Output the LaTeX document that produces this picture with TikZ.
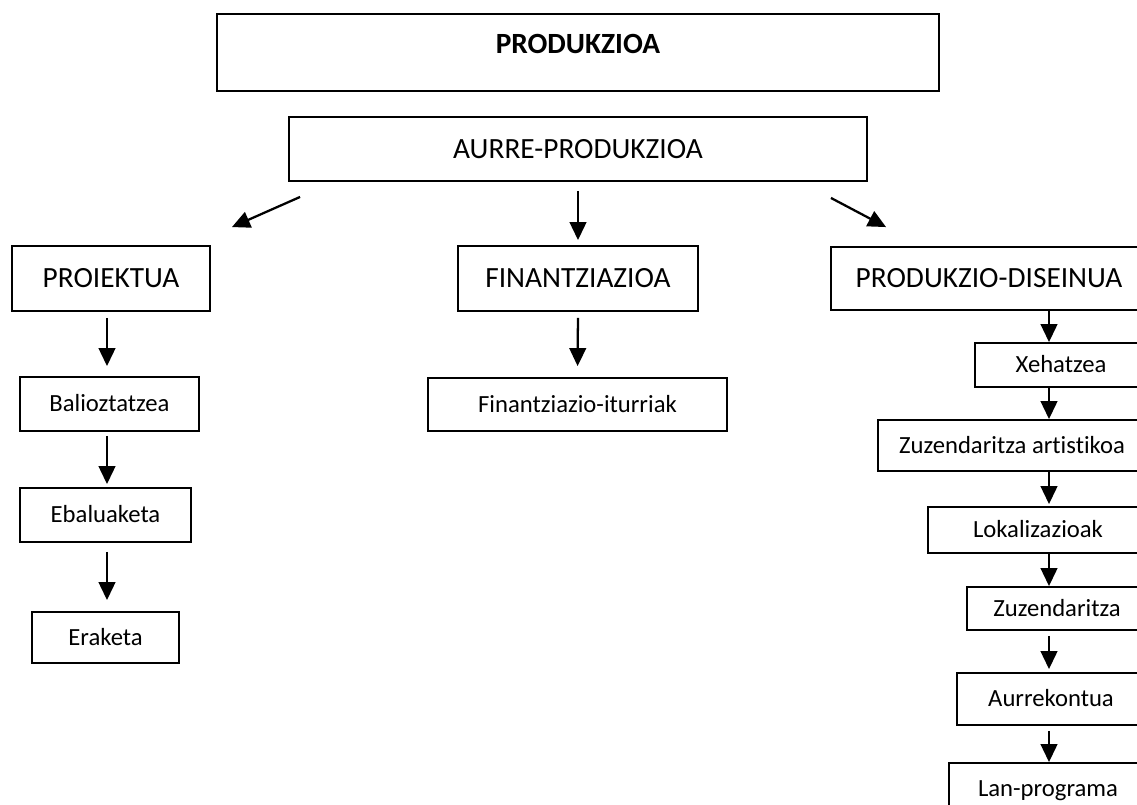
\documentclass[tikz,border=0pt]{standalone}
\usepackage{fontspec}
\setmainfont{Carlito}[Ligatures=NoCommon]
\usetikzlibrary{arrows.meta,calc}

\begin{document}
\begin{tikzpicture}[
x=0.75pt, y=-0.75pt,
box/.style={
  draw,
  line width=1.4pt,
  inner sep=0pt,
  text depth=0pt
  },
big/.style={
  box,
  font=\fontsize{22}{26}\selectfont,
  text height=13.9pt
  },
small/.style={
  box,
  font=\fontsize{18.5}{22}\selectfont,
  text height=11.7pt
  },
arr/.style={
  -{Triangle[length=13.5pt,width=12.5pt]},
  line width=1.7pt
  }
]
\useasboundingbox (0,0) rectangle (1137,804);
\clip (0,0) rectangle (1137,804);

% goiburuak
\node[box, minimum width=541.5pt, minimum height=57.75pt,
  font=\fontsize{22}{26}\selectfont\bfseries, text height=13.9pt, text depth=12.75pt]
  (prod) at (578,52.5) {PRODUKZIOA};
\node[big, minimum width=433.5pt, minimum height=48pt] (aurre) at (578,149) {AURRE-PRODUKZIOA};

% hiru adarrak
\node[big, minimum width=148.5pt, minimum height=48.75pt] (proiektua) at (111,278.5) {PROIEKTUA};
\node[big, minimum width=180pt, minimum height=48.75pt] (finan) at (578,278.5) {FINANTZIAZIOA};
\node[big, minimum width=237pt, minimum height=47.25pt] (diseinua) at (989,278.5) {PRODUKZIO-DISEINUA};

% ezkerreko zutabea
\node[small, minimum width=134.25pt, minimum height=40.5pt] (baliozt) at (109.5,404) {Balioztatzea};
\node[small, minimum width=128.25pt, minimum height=40.5pt] (ebalu) at (105.5,515) {Ebaluaketa};
\node[small, minimum width=110.25pt, minimum height=38.25pt] (eraketa) at (105.5,637.5) {Eraketa};

% erdiko zutabea
\node[small, minimum width=224.25pt, minimum height=39.75pt] (iturri) at (577.5,404.5) {Finantziazio-iturriak};

% eskuineko zutabea
\node[small, minimum width=129pt, minimum height=33pt] (xehatzea) at (1061,365) {Xehatzea};
\node[small, minimum width=201pt, minimum height=38.25pt] (zuzart) at (1012,445.5) {Zuzendaritza artistikoa};
\node[small, minimum width=165pt, minimum height=34.5pt] (lokal) at (1038,530) {Lokalizazioak};
\node[small, minimum width=135pt, minimum height=32.25pt] (zuzen) at (1057,608.5) {Zuzendaritza};
\node[small, minimum width=141pt, minimum height=39pt] (aurrek) at (1051,699) {Aurrekontua};
\node[small, minimum width=148.5pt, minimum height=39pt] (lanprog) at (1048,789) {Lan-programa};

\coordinate (lcol) at (107,0);
\coordinate (rcol) at (1049,0);

% geziak
\draw[arr] ($(aurre.south west)+(12,15)$) -- ($(proiektua.north east)+(21,-18)$);
\draw[arr, shorten <=6.75pt, shorten >=3.75pt] (aurre.south) -- (finan.north);
\draw[arr] ($(aurre.south east)+(-37,16)$) -- ($(diseinua.north west)+(56,-19)$);
\draw[arr, shorten <=4.5pt, shorten >=8.25pt] (finan.south) -- (iturri.north);
\foreach \a/\b/\s/\e in {proiektua/baliozt/4.5/7.5, baliozt/ebalu/3/2.25, ebalu/eraketa/6.75/8.25}
  \draw[arr, shorten <=\s pt, shorten >=\e pt] (\a.south -| lcol) -- (\b.north -| lcol);
\foreach \a/\b/\s/\e in {diseinua/xehatzea/0/0, xehatzea/zuzart/0/0, zuzart/lokal/0/1.5,
  lokal/zuzen/0/0, zuzen/aurrek/3.75/2.25, aurrek/lanprog/3.75/0}
  \draw[arr, shorten <=\s pt, shorten >=\e pt] (\a.south -| rcol) -- (\b.north -| rcol);
\end{tikzpicture}
\end{document}
